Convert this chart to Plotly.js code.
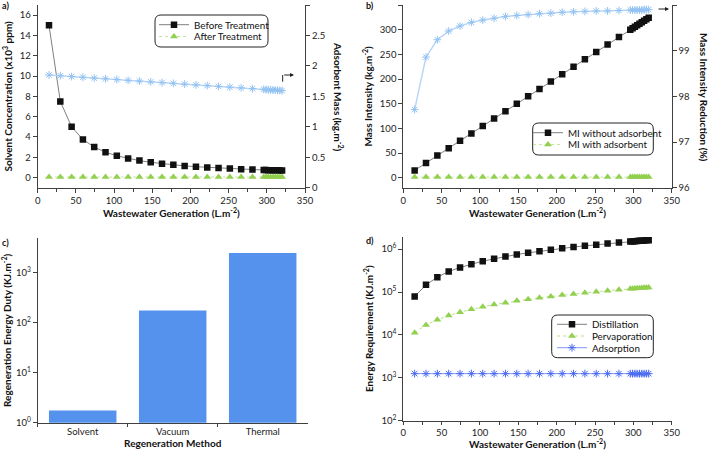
<!DOCTYPE html>
<html><head><meta charset="utf-8">
<script src="https://cdn.plot.ly/plotly-3.0.1.min.js"></script>
<style>html,body{margin:0;padding:0;background:#fff}#chart{width:710px;height:450px}</style>
</head><body><div id="chart"></div>
<script>
// ---------- data ----------
const wastewater = [14.8, 29.6, 44.4, 59.2, 74.0, 88.8, 103.6, 118.4, 133.2, 148.0, 162.8, 177.6, 192.4, 207.2, 222.0, 236.8, 251.6, 266.4, 281.2, 296.0, 299.0, 302.0, 305.0, 308.0, 311.0, 314.0, 317.0, 320.0];
const beforeTreatment = [15.0, 7.5, 5.0, 3.75, 3.0, 2.5, 2.14, 1.88, 1.67, 1.5, 1.36, 1.25, 1.15, 1.07, 1.0, 0.94, 0.88, 0.83, 0.79, 0.75, 0.74, 0.73, 0.73, 0.72, 0.71, 0.71, 0.70, 0.69];
const afterTreatment = [0.05, 0.05, 0.05, 0.05, 0.05, 0.05, 0.05, 0.05, 0.05, 0.05, 0.05, 0.05, 0.05, 0.05, 0.05, 0.05, 0.05, 0.05, 0.05, 0.05, 0.05, 0.05, 0.05, 0.05, 0.05, 0.05, 0.05, 0.05];
const adsorbentMass = [1.850, 1.838, 1.825, 1.813, 1.800, 1.788, 1.776, 1.763, 1.751, 1.738, 1.726, 1.714, 1.701, 1.689, 1.676, 1.664, 1.652, 1.639, 1.627, 1.614, 1.612, 1.609, 1.607, 1.604, 1.602, 1.599, 1.597, 1.594];
const miWithout = [15, 30, 45, 60, 75, 90, 105, 120, 135, 150, 165, 180, 195, 210, 225, 240, 255, 270, 285, 300, 303, 306, 309, 312, 315, 318, 321, 324];
const miWith = [1.5, 1.5, 1.5, 1.5, 1.5, 1.5, 1.5, 1.5, 1.5, 1.5, 1.5, 1.5, 1.5, 1.5, 1.5, 1.5, 1.5, 1.5, 1.5, 1.5, 1.5, 1.5, 1.5, 1.5, 1.5, 1.5, 1.5, 1.5];
const miReduction = [97.71, 98.86, 99.24, 99.43, 99.54, 99.62, 99.67, 99.71, 99.75, 99.77, 99.79, 99.81, 99.82, 99.84, 99.85, 99.86, 99.87, 99.87, 99.88, 99.89, 99.89, 99.89, 99.89, 99.89, 99.89, 99.90, 99.90, 99.90];
const regenMethods = ['Solvent', 'Vacuum', 'Thermal'];
const regenEnergy = [1.75, 175, 2450];
const distillation = [78500, 147000, 222000, 302000, 373000, 447000, 525000, 594000, 674000, 750000, 820000, 895000, 970000, 1045000, 1120000, 1195000, 1270000, 1345000, 1420000, 1500000, 1515000, 1530000, 1545000, 1560000, 1575000, 1590000, 1605000, 1620000];
const pervaporation = [11300, 17000, 22600, 28300, 33900, 39500, 45200, 50900, 56500, 62200, 67800, 73500, 79100, 84800, 90400, 96100, 101700, 107400, 113000, 118700, 119800, 121000, 122100, 123200, 124400, 125500, 126600, 127700];
const adsorption = [1250, 1250, 1250, 1250, 1250, 1250, 1250, 1250, 1250, 1250, 1250, 1250, 1250, 1250, 1250, 1250, 1250, 1250, 1250, 1250, 1250, 1250, 1250, 1250, 1250, 1250, 1250, 1250];
const logTickVals = [1, 10, 100, 1000, 10000, 100000, 1000000];
const logTickText = ['10<sup>0</sup>', '10<sup>1</sup>', '10<sup>2</sup>', '10<sup>3</sup>', '10<sup>4</sup>', '10<sup>5</sup>', '10<sup>6</sup>'];

// ---------- helpers (geometry only) ----------
const W = 710, H = 450;
const px = x => x / W, py = y => 1 - y / H;
const FONT = 'Lato, "Open Sans", sans-serif';
const AX = '#404040';
const BLACK = '#111111', GREYLINE = '#7f7f7f', GREEN = '#92d050', LBLUE = '#93c2f2', BLUE = '#4a6af2', BAR = '#5592ee';

function axisBase(extra) {
  return Object.assign({
    showline: true, linecolor: AX, linewidth: 1, ticks: 'outside', ticklen: 4, tickcolor: AX,
    showgrid: false, zeroline: false, tickfont: {family: FONT, size: 9.5, color: '#222'}
  }, extra);
}
function ttl(text, standoff) {
  return {text: text, font: {family: FONT, size: 10, color: '#111', weight: 'bold'}, standoff: standoff};
}
function rr(x0, y0, x1, y1, r) {
  const rx = r / W, ry = r / H;
  const X0 = px(x0), X1 = px(x1), Y0 = py(y0), Y1 = py(y1);
  return {type: 'path', xref: 'paper', yref: 'paper', line: {color: '#222', width: 1},
    path: `M${X0 + rx},${Y0} L${X1 - rx},${Y0} Q${X1},${Y0} ${X1},${Y0 - ry} L${X1},${Y1 + ry} Q${X1},${Y1} ${X1 - rx},${Y1} L${X0 + rx},${Y1} Q${X0},${Y1} ${X0},${Y1 + ry} L${X0},${Y0 - ry} Q${X0},${Y0} ${X0 + rx},${Y0} Z`};
}
function leg(xp, yp) {
  return {x: px(xp), y: py(yp), xanchor: 'left', yanchor: 'middle', bgcolor: 'rgba(0,0,0,0)', borderwidth: 0,
    font: {family: FONT, size: 9.8, color: '#111'}, itemwidth: 30, tracegroupgap: 0};
}
const sq = {symbol: 'square', size: 6.5, color: BLACK};
const tri = {symbol: 'triangle-up', size: 7, color: GREEN};
const ast = (c, s) => ({symbol: 'asterisk-open', size: s, color: c, line: {color: c, width: 1}});

const traces = [
  // panel a
  {x: wastewater, y: beforeTreatment, name: 'Before Treatment', type: 'scatter', mode: 'lines+markers', xaxis: 'x', yaxis: 'y',
    line: {color: GREYLINE, width: 1}, marker: sq, legend: 'legend'},
  {x: wastewater, y: afterTreatment, name: 'After Treatment', type: 'scatter', mode: 'lines+markers', xaxis: 'x', yaxis: 'y',
    line: {color: '#c5e59c', width: 1, dash: 'dot'}, marker: tri, legend: 'legend2'},
  {x: wastewater, y: adsorbentMass, name: 'Adsorbent Mass', type: 'scatter', mode: 'lines+markers', xaxis: 'x', yaxis: 'y2',
    line: {color: '#b8d7f7', width: 1.5}, marker: ast(LBLUE, 6.5), showlegend: false},
  // panel b
  {x: wastewater, y: miWithout, name: 'MI without adsorbent', type: 'scatter', mode: 'lines+markers', xaxis: 'x2', yaxis: 'y3',
    line: {color: GREYLINE, width: 1}, marker: sq, legend: 'legend3'},
  {x: wastewater, y: miWith, name: 'MI with adsorbent', type: 'scatter', mode: 'lines+markers', xaxis: 'x2', yaxis: 'y3',
    line: {color: '#c5e59c', width: 1, dash: 'dot'}, marker: tri, legend: 'legend4'},
  {x: wastewater, y: miReduction, name: 'Mass Intensity Reduction', type: 'scatter', mode: 'lines+markers', xaxis: 'x2', yaxis: 'y4',
    line: {color: '#b8d7f7', width: 1.5}, marker: ast(LBLUE, 6.5), showlegend: false},
  // panel c
  {x: regenMethods, y: regenEnergy, name: 'Regeneration Energy Duty', type: 'bar', xaxis: 'x3', yaxis: 'y5',
    marker: {color: BAR}, showlegend: false},
  // panel d
  {x: wastewater, y: distillation, name: 'Distillation', type: 'scatter', mode: 'lines+markers', xaxis: 'x4', yaxis: 'y6',
    line: {color: GREYLINE, width: 1}, marker: sq, legend: 'legend5'},
  {x: wastewater, y: pervaporation, name: 'Pervaporation', type: 'scatter', mode: 'lines+markers', xaxis: 'x4', yaxis: 'y6',
    line: {color: '#b9df86', width: 1, dash: 'dot'}, marker: tri, legend: 'legend6'},
  {x: wastewater, y: adsorption, name: 'Adsorption', type: 'scatter', mode: 'lines+markers', xaxis: 'x4', yaxis: 'y6',
    line: {color: '#8096f6', width: 1}, marker: ast(BLUE, 6.5), legend: 'legend7'}
];

const minor = {dtick: 25, ticks: 'outside', ticklen: 3, tickcolor: AX};
const domA = {x: [px(37.7), px(305)], y: [py(187.7), py(5)]};
const domB = {x: [px(403.3), px(671.7)], y: [py(187.7), py(5)]};
const domC = {x: [px(37.7), px(307.7)], y: [py(422.7), py(238)]};
const domD = {x: [px(403.3), px(671.7)], y: [py(420.7), py(236.7)]};

const layout = {
  width: W, height: H, margin: {l: 0, r: 0, t: 0, b: 0}, paper_bgcolor: '#fff', plot_bgcolor: '#fff',
  font: {family: FONT, color: '#111'}, bargap: 0.25,
  xaxis: axisBase({domain: domA.x, anchor: 'y', range: [0, 350], dtick: 50, minor: minor, title: ttl('Wastewater Generation (L.m<sup>-2</sup>)', 1)}),
  yaxis: axisBase({domain: domA.y, anchor: 'x', range: [-1, 17], tick0: 0, dtick: 2, title: ttl('Solvent Concentration (x10<sup>3</sup> ppm)', 5)}),
  yaxis2: axisBase({overlaying: 'y', side: 'right', anchor: 'x', range: [0, 3], dtick: 0.5}),
  xaxis2: axisBase({domain: domB.x, anchor: 'y3', range: [0, 350], dtick: 50, minor: minor, title: ttl('Wastewater Generation (L.m<sup>-2</sup>)', 1)}),
  yaxis3: axisBase({domain: domB.y, anchor: 'x2', range: [-20, 350], tick0: 0, dtick: 50, title: ttl('Mass Intensity (kg.m<sup>-2</sup>)', 5)}),
  yaxis4: axisBase({overlaying: 'y3', side: 'right', anchor: 'x2', range: [96, 100], dtick: 1}),
  xaxis3: axisBase({domain: domC.x, anchor: 'y5', type: 'category', tickson: 'boundaries', ticklen: 3, title: ttl('Regeneration Method', 2)}),
  yaxis5: axisBase({domain: domC.y, anchor: 'x3', type: 'log', range: [0, 3.69], tickvals: logTickVals, ticktext: logTickText, title: ttl('Regeneration Energy Duty (KJ.m<sup>-2</sup>)', 5)}),
  xaxis4: axisBase({domain: domD.x, anchor: 'y6', range: [0, 350], dtick: 50, ticklen: 3, minor: minor, title: ttl('Wastewater Generation (L.m<sup>-2</sup>)', 1)}),
  yaxis6: axisBase({domain: domD.y, anchor: 'x4', type: 'log', range: [2, 6.29], tickvals: logTickVals, ticktext: logTickText, title: ttl('Energy Requirement (KJ.m<sup>-2</sup>)', 5)}),
  legend: leg(154, 24.7), legend2: leg(154, 36.5),
  legend3: leg(528, 132.7), legend4: leg(528, 144.5),
  legend5: leg(552, 324.3), legend6: leg(552, 336), legend7: leg(552, 347.7),
  shapes: [
    rr(155, 15, 268, 47, 6), rr(532.7, 123, 653.3, 155, 6), rr(551.7, 315, 653.3, 357.7, 6),
    {type: 'line', xref: 'paper', yref: 'paper', x0: px(282.7), x1: px(282.7), y0: py(81.7), y1: py(75), line: {color: '#222', width: 1}}
  ],
  annotations: [
    {text: '<b>a)</b>', x: px(0), y: py(6), xref: 'paper', yref: 'paper', xanchor: 'left', yanchor: 'middle', showarrow: false, font: {family: FONT, size: 9}},
    {text: '<b>b)</b>', x: px(364), y: py(6), xref: 'paper', yref: 'paper', xanchor: 'left', yanchor: 'middle', showarrow: false, font: {family: FONT, size: 9}},
    {text: '<b>c)</b>', x: px(0), y: py(242), xref: 'paper', yref: 'paper', xanchor: 'left', yanchor: 'middle', showarrow: false, font: {family: FONT, size: 9}},
    {text: '<b>d)</b>', x: px(364), y: py(240), xref: 'paper', yref: 'paper', xanchor: 'left', yanchor: 'middle', showarrow: false, font: {family: FONT, size: 9}},
    {text: 'Adsorbent Mass (kg.m<sup>-2</sup>)', textangle: 90, x: px(338), y: py(97), xref: 'paper', yref: 'paper', xanchor: 'center', yanchor: 'middle', showarrow: false, font: {family: FONT, size: 10, weight: 'bold'}},
    {text: 'Mass Intensity Reduction (%)', textangle: 90, x: px(704), y: py(97), xref: 'paper', yref: 'paper', xanchor: 'center', yanchor: 'middle', showarrow: false, font: {family: FONT, size: 10, weight: 'bold'}},
    {text: '', x: px(294), y: py(75), xref: 'paper', yref: 'paper', showarrow: true, ax: -11.3, ay: 0, arrowhead: 2, arrowsize: 0.8, arrowwidth: 1, arrowcolor: '#222'},
    {text: '', x: px(669), y: py(9), xref: 'paper', yref: 'paper', showarrow: true, ax: -12, ay: 0, arrowhead: 2, arrowsize: 0.8, arrowwidth: 1, arrowcolor: '#222'}
  ]
};

Plotly.newPlot('chart', traces, layout, {staticPlot: true, displayModeBar: false});
</script></body></html>
